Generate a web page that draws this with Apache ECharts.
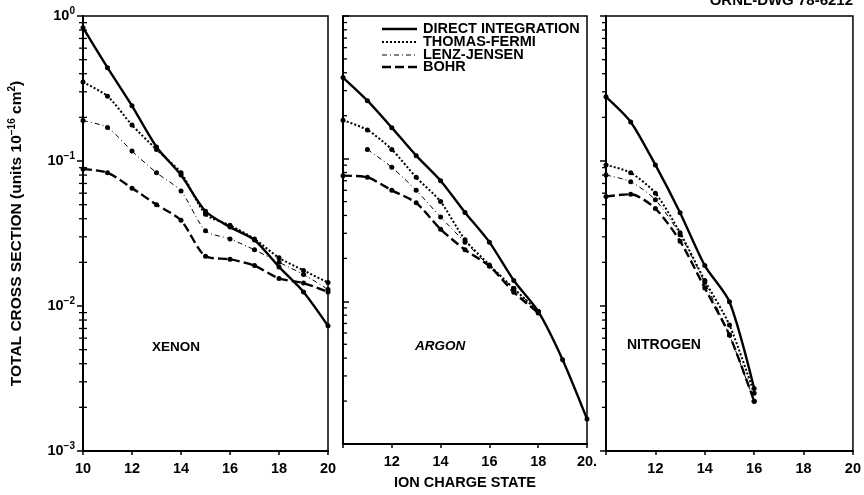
<!DOCTYPE html>
<html><head><meta charset="utf-8">
<script src="https://cdn.jsdelivr.net/npm/echarts@6/dist/echarts.min.js"></script>
<style>html,body{margin:0;padding:0;background:#fff}#c{width:864px;height:495px}</style>
</head><body><div id="c"></div>
<script>
const xValues = [10, 11, 12, 13, 14, 15, 16, 17, 18, 19, 20];
const seriesNames = ['DIRECT INTEGRATION', 'THOMAS-FERMI', 'LENZ-JENSEN', 'BOHR'];
const panelNames = ['XENON', 'ARGON', 'NITROGEN'];
const yTickValues = [1, 0.1, 0.01, 0.001];
const xTickValues = [10, 12, 14, 16, 18, 20];

const xenonDI   = [0.83, 0.44, 0.24, 0.125, 0.080, 0.045, 0.035, 0.0285, 0.0186, 0.0125, 0.0073];
const xenonTF   = [0.35, 0.28, 0.177, 0.12, 0.083, 0.043, 0.036, 0.029, 0.0215, 0.0176, 0.0145];
const xenonLJ   = [0.19, 0.17, 0.117, 0.083, 0.062, 0.033, 0.029, 0.0244, 0.020, 0.0165, 0.013];
const xenonBohr = [0.088, 0.083, 0.065, 0.050, 0.039, 0.022, 0.021, 0.019, 0.0155, 0.0144, 0.0125];

const argonDI   = [0.37, 0.255, 0.165, 0.105, 0.070, 0.042, 0.026, 0.014, 0.0085, 0.0039, 0.0015];
const argonTF   = [0.186, 0.159, 0.116, 0.074, 0.050, 0.027, 0.018, 0.0123, 0.0085, null, null];
const argonLJ   = [null, 0.116, 0.087, 0.060, 0.039, 0.026, 0.0177, 0.0123, 0.0085, null, null];
const argonBohr = [0.076, 0.074, 0.060, 0.049, 0.032, 0.023, 0.0177, 0.0116, 0.0083, null, null];

const nitrogenDI   = [0.277, 0.186, 0.094, 0.044, 0.019, 0.0107, 0.0027, null, null, null, null];
const nitrogenTF   = [0.094, 0.083, 0.060, 0.032, 0.015, 0.0074, 0.0025, null, null, null, null];
const nitrogenLJ   = [0.080, 0.072, 0.054, 0.031, 0.0145, 0.0063, 0.0022, null, null, null, null];
const nitrogenBohr = [0.057, 0.059, 0.047, 0.028, 0.0133, 0.0063, 0.0022, null, null, null, null];

const minorTickValues = [];
[0.001, 0.01, 0.1].forEach(d => { for (let k = 2; k <= 9; k++) minorTickValues.push(+(d * k).toPrecision(3)); });

const panels = [
  [xenonDI, xenonTF, xenonLJ, xenonBohr],
  [argonDI, argonTF, argonLJ, argonBohr],
  [nitrogenDI, nitrogenTF, nitrogenLJ, nitrogenBohr]
];

const FONT = 'Liberation Sans';
const lineStyles = [
  { width: 2.4, type: 'solid' },
  { width: 2, type: [2, 2] },
  { width: 1, type: [5, 3, 1, 3] },
  { width: 2.4, type: [9, 4] }
];

const grids = [
  { left: 83, top: 16, width: 245, height: 435 },
  { left: 343, top: 16, width: 244, height: 435 },
  { left: 606, top: 16, width: 247, height: 435 }
].map(g => Object.assign({ show: true, borderColor: '#000', borderWidth: 1.5, backgroundColor: 'transparent' }, g));

const supRich = {
  b: { fontSize: 14.5, fontWeight: 'bold', fontFamily: FONT, color: '#000' },
  s: { fontSize: 10, fontWeight: 'bold', fontFamily: FONT, color: '#000', padding: [0, 0, 10, 0] }
};

const xAxes = grids.map((g, i) => ({
  type: 'value', gridIndex: i, min: 10, max: 20, interval: 2,
  axisLine: { lineStyle: { color: '#000', width: 2 } },
  axisTick: { inside: false, length: 4, lineStyle: { color: '#000', width: 1.5 } },
  splitLine: { show: false },
  axisLabel: {
    color: '#000', fontSize: 14.5, fontWeight: 'bold', fontFamily: FONT, margin: 10,
    formatter: v => (i > 0 && v === 10) ? '' : (i === 1 && v === 20 ? '20.' : String(v))
  },
  name: i === 1 ? 'ION CHARGE STATE' : '',
  nameLocation: 'middle', nameGap: 31,
  nameTextStyle: { color: '#000', fontSize: 14.5, fontWeight: 'bold', fontFamily: FONT }
}));

const yAxes = grids.map((g, i) => ({
  type: 'log', logBase: 10, gridIndex: i, min: 0.001, max: 1,
  axisLine: { lineStyle: { color: '#000', width: 2 } },
  axisTick: { show: true, inside: i === 1, length: 6, lineStyle: { color: '#000', width: 1.5 } },
  splitLine: { show: false },
  axisLabel: {
    show: i === 0, margin: 8,
    formatter: v => '{b|10}{s|' + String(Math.round(Math.log10(v))).replace('-', '−') + '}',
    rich: supRich
  },
  name: i === 0 ? '{t|TOTAL CROSS SECTION (units 10}{u|−16}{t| cm}{u|2}{t|)}' : '',
  nameLocation: 'middle', nameGap: 56, nameRotate: 90,
  nameTextStyle: {
    rich: {
      t: { fontSize: 15.5, fontWeight: 'bold', fontFamily: FONT, color: '#000' },
      u: { fontSize: 10, fontWeight: 'bold', fontFamily: FONT, color: '#000', padding: [0, 0, 10, 0] }
    }
  }
}));

const series = [];
panels.forEach((arrs, p) => {
  arrs.forEach((arr, s) => {
    series.push({
      type: 'line', name: seriesNames[s], xAxisIndex: p, yAxisIndex: p,
      data: xValues.map((x, i) => [x, arr[i]]).filter(d => d[1] != null),
      smooth: 0.25, symbol: 'circle', symbolSize: 5,
      itemStyle: { color: '#000' },
      lineStyle: Object.assign({ color: '#000' }, lineStyles[s]),
      silent: true, animation: false, z: 3
    });
  });
  series.push({
    type: 'custom', xAxisIndex: p, yAxisIndex: p, silent: true, animation: false,
    data: minorTickValues.map(v => [10, v]),
    renderItem: (params, api) => {
      const pt = api.coord([api.value(0), api.value(1)]);
      const x0 = p === 1 ? pt[0] : pt[0] - 4;
      const x1 = p === 2 ? pt[0] : pt[0] + 4;
      return { type: 'line', shape: { x1: x0, y1: pt[1], x2: x1, y2: pt[1] }, style: { stroke: '#000', lineWidth: 1.3 } };
    }
  });
});

const labelStyle = { fill: '#000', fontSize: 14.5, fontWeight: 'bold', fontFamily: FONT };
const graphic = [
  { type: 'text', left: 152, top: 340, style: Object.assign({ text: panelNames[0] }, labelStyle, { fontSize: 13.5 }) },
  { type: 'text', left: 415, top: 339, style: Object.assign({ text: panelNames[1] }, labelStyle, { fontStyle: 'italic', fontSize: 13.5 }) },
  { type: 'text', left: 627, top: 338, style: Object.assign({ text: panelNames[2] }, labelStyle, { fontSize: 14 }) },
  { type: 'text', right: 11, top: -7, style: Object.assign({ text: 'ORNL-DWG 78-6212' }, labelStyle, { fontSize: 15 }) }
];
const legendY = [29, 42, 55, 67];
seriesNames.forEach((n, i) => {
  graphic.push({ type: 'line', shape: { x1: 382, y1: legendY[i], x2: 417, y2: legendY[i] },
    style: { stroke: '#000', lineWidth: lineStyles[i].width, lineDash: lineStyles[i].type === 'solid' ? null : lineStyles[i].type } });
  graphic.push({ type: 'text', left: 423, top: legendY[i] - 8,
    style: Object.assign({}, labelStyle, { text: n, fontSize: 14.5 }) });
});

const chart = echarts.init(document.getElementById('c'), null, { renderer: 'canvas' });
chart.setOption({
  backgroundColor: '#fff', animation: false,
  grid: grids, xAxis: xAxes, yAxis: yAxes, series: series, graphic: graphic
});
</script></body></html>
